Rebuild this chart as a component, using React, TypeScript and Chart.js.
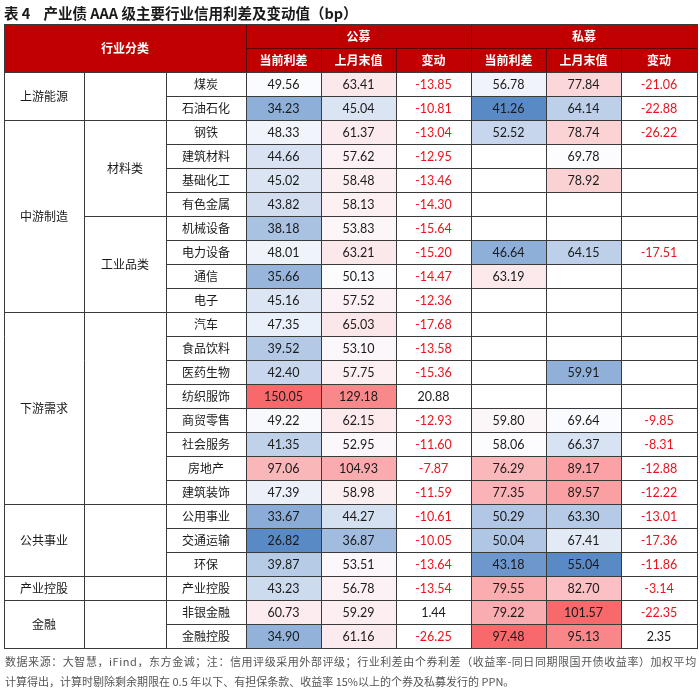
import React, { useEffect, useRef } from "react";
import { Chart, registerables } from "chart.js";

Chart.register(...registerables);

// ---------- text ----------
const TITLE = "表 4    产业债 AAA 级主要行业信用利差及变动值（bp）";
const NOTE_LINES = [
  "数据来源：大智慧，iFind，东方金诚；注：信用评级采用外部评级；行业利差由个券利差（收益率-同日同期限国开债收益率）加权平均",
  "计算得出，计算时剔除剩余期限在 0.5 年以下、有担保条款、收益率 15%以上的个券及私募发行的 PPN。",
];
const HEADER_CATEGORY = "行业分类";
const HEADER_GROUPS = ["公募", "私募"];
const HEADER_METRICS = ["当前利差", "上月末值", "变动"];

// ---------- categories ----------
const industries = [
  "煤炭", "石油石化", "钢铁", "建筑材料", "基础化工", "有色金属", "机械设备", "电力设备",
  "通信", "电子", "汽车", "食品饮料", "医药生物", "纺织服饰", "商贸零售", "社会服务",
  "房地产", "建筑装饰", "公用事业", "交通运输", "环保", "产业控股", "非银金融", "金融控股",
];
const sectors = ["上游能源", "中游制造", "下游需求", "公共事业", "产业控股", "金融"];
const sectorSizes = [2, 8, 8, 3, 1, 2];
const subSectors = ["", "材料类", "工业品类", "", "", "", ""];
const subSectorSizes = [2, 4, 4, 8, 3, 1, 2];

// ---------- values (bp) ----------
const publicCurrent = [49.56, 34.23, 48.33, 44.66, 45.02, 43.82, 38.18, 48.01, 35.66, 45.16, 47.35, 39.52, 42.40, 150.05, 49.22, 41.35, 97.06, 47.39, 33.67, 26.82, 39.87, 43.23, 60.73, 34.90];
const publicLastMonth = [63.41, 45.04, 61.37, 57.62, 58.48, 58.13, 53.83, 63.21, 50.13, 57.52, 65.03, 53.10, 57.75, 129.18, 62.15, 52.95, 104.93, 58.98, 44.27, 36.87, 53.51, 56.78, 59.29, 61.16];
const publicChange = [-13.85, -10.81, -13.04, -12.95, -13.46, -14.30, -15.64, -15.20, -14.47, -12.36, -17.68, -13.58, -15.36, 20.88, -12.93, -11.60, -7.87, -11.59, -10.61, -10.05, -13.64, -13.54, 1.44, -26.25];
const privateCurrent: (number | null)[] = [56.78, 41.26, 52.52, null, null, null, null, 46.64, 63.19, null, null, null, null, null, 59.80, 58.06, 76.29, 77.35, 50.29, 50.04, 43.18, 79.55, 79.22, 97.48];
const privateLastMonth: (number | null)[] = [77.84, 64.14, 78.74, 69.78, 78.92, null, null, 64.15, null, null, null, null, 59.91, null, 69.64, 66.37, 89.17, 89.57, 63.30, 67.41, 55.04, 82.70, 101.57, 95.13];
const privateChange: (number | null)[] = [-21.06, -22.88, -26.22, null, null, null, null, -17.51, null, null, null, null, null, null, -9.85, -8.31, -12.88, -12.22, -13.01, -17.36, -11.86, -3.14, -22.35, 2.35];

// ---------- layout / style ----------
const EDGES = [0, 80, 162, 242, 317, 392, 467, 542, 617, 693];
const HEADER_ROWS = 2;
const RED_HEADER = "#C00000";
const BODY_LINE = "#3a3a3a";
const HEADER_LINE = "#5a0000";
const NEG_RED = "#E8141E";
const TEXT = "#1a1a1a";
const NOTE_COLOR = "#555555";
const CJK = '"Noto Sans CJK SC", "Noto Sans", sans-serif';
const NUM = 'Lato, "Noto Sans CJK SC", sans-serif';
const LOW = [90, 138, 198];
const MID = [252, 252, 255];
const HIGH = [248, 105, 107];

type Vals = (number | null)[];

function median(list: number[]) {
  const s = [...list].sort((a, b) => a - b);
  const n = s.length;
  return n % 2 ? s[(n - 1) / 2] : (s[n / 2 - 1] + s[n / 2]) / 2;
}
function mix(a: number[], b: number[], t: number) {
  const c = a.map((v, i) => Math.round(v + (b[i] - v) * t));
  return `rgb(${c[0]},${c[1]},${c[2]})`;
}
function makeScale(pool: Vals) {
  const nums = pool.filter((v): v is number => v != null);
  const min = Math.min(...nums);
  const max = Math.max(...nums);
  const mid = median(nums);
  return (v: number | null) => {
    if (v == null) return "#ffffff";
    if (v <= mid) return mix(LOW, MID, (v - min) / (mid - min || 1));
    return mix(MID, HIGH, (v - mid) / (max - mid || 1));
  };
}

const publicScale = makeScale([...publicCurrent, ...publicLastMonth]);
const privCurScale = makeScale(privateCurrent);
const privLastScale = makeScale(privateLastMonth);
const whiteScale = (_v: number | null) => "#ffffff";

const valueColumns: { values: Vals; scale: (v: number | null) => string; change: boolean }[] = [
  { values: publicCurrent, scale: publicScale, change: false },
  { values: publicLastMonth, scale: publicScale, change: false },
  { values: publicChange, scale: whiteScale, change: true },
  { values: privateCurrent, scale: privCurScale, change: false },
  { values: privateLastMonth, scale: privLastScale, change: false },
  { values: privateChange, scale: whiteScale, change: true },
];

const rowLabels = [...Array(HEADER_ROWS).fill(""), ...industries];

function crisp(v: number) {
  return Math.round(v) + 0.5;
}

const tablePlugin = {
  id: "tableGrid",
  beforeDraw(chart: any) {
    const { ctx, width, height } = chart;
    ctx.save();
    ctx.fillStyle = "#ffffff";
    ctx.fillRect(0, 0, width, height);
    ctx.restore();
  },
  beforeDatasetsDraw(chart: any) {
    const { ctx } = chart;
    const x = chart.scales.x;
    const y = chart.scales.y;
    const rowH = y.getPixelForValue(1) - y.getPixelForValue(0);
    const top = (r: number) => y.getPixelForValue(r) - rowH / 2;
    const cx = (k: number) => x.getPixelForValue(EDGES[k]);
    ctx.save();
    ctx.fillStyle = RED_HEADER;
    ctx.fillRect(cx(0), top(0), cx(9) - cx(0), top(HEADER_ROWS) - top(0));
    ctx.restore();
  },
  afterDatasetsDraw(chart: any) {
    const { ctx } = chart;
    const x = chart.scales.x;
    const y = chart.scales.y;
    const rowH = y.getPixelForValue(1) - y.getPixelForValue(0);
    const top = (r: number) => y.getPixelForValue(r) - rowH / 2;
    const cx = (k: number) => x.getPixelForValue(EDGES[k]);
    const nRows = rowLabels.length;

    const hLine = (r: number, k0: number, k1: number, color: string) => {
      ctx.strokeStyle = color;
      ctx.beginPath();
      const yy = crisp(top(r));
      ctx.moveTo(Math.round(cx(k0)), yy);
      ctx.lineTo(Math.round(cx(k1)) + 1, yy);
      ctx.stroke();
    };
    const vLine = (k: number, r0: number, r1: number, color: string) => {
      ctx.strokeStyle = color;
      ctx.beginPath();
      const xx = crisp(cx(k));
      ctx.moveTo(xx, Math.round(top(r0)));
      ctx.lineTo(xx, Math.round(top(r1)) + 1);
      ctx.stroke();
    };

    ctx.save();
    ctx.lineWidth = 1;

    // header lines
    hLine(1, 3, 9, HEADER_LINE);
    vLine(3, 0, 2, HEADER_LINE);
    vLine(6, 0, 2, HEADER_LINE);
    [4, 5, 7, 8].forEach((k) => vLine(k, 1, 2, HEADER_LINE));

    // body horizontal lines
    for (let r = HEADER_ROWS + 1; r < nRows; r++) hLine(r, 2, 9, BODY_LINE);
    let acc = HEADER_ROWS;
    sectorSizes.forEach((s) => {
      acc += s;
      if (acc < nRows) hLine(acc, 0, 1, BODY_LINE);
    });
    acc = HEADER_ROWS;
    subSectorSizes.forEach((s) => {
      acc += s;
      if (acc < nRows) hLine(acc, 1, 2, BODY_LINE);
    });
    hLine(HEADER_ROWS, 0, 9, BODY_LINE);
    for (let k = 1; k <= 8; k++) vLine(k, HEADER_ROWS, nRows, BODY_LINE);
    hLine(0, 0, 9, BODY_LINE);
    hLine(nRows, 0, 9, BODY_LINE);
    vLine(0, 0, nRows, BODY_LINE);
    vLine(9, 0, nRows, BODY_LINE);

    ctx.textAlign = "center";
    ctx.textBaseline = "middle";

    // header text
    ctx.fillStyle = "#ffffff";
    ctx.font = `bold 12px ${CJK}`;
    ctx.fillText(HEADER_CATEGORY, (cx(0) + cx(3)) / 2, top(1) + 0.5);
    HEADER_GROUPS.forEach((g, i) => {
      ctx.fillText(g, (cx(3 + i * 3) + cx(6 + i * 3)) / 2, (top(0) + top(1)) / 2 + 0.5);
      HEADER_METRICS.forEach((m, j) => {
        const k = 3 + i * 3 + j;
        ctx.fillText(m, (cx(k) + cx(k + 1)) / 2, (top(1) + top(2)) / 2 + 0.5);
      });
    });

    // sector / sub-sector text
    ctx.fillStyle = TEXT;
    ctx.font = `12px ${CJK}`;
    acc = HEADER_ROWS;
    sectors.forEach((s, i) => {
      const r0 = acc;
      acc += sectorSizes[i];
      ctx.fillText(s, (cx(0) + cx(1)) / 2, (top(r0) + top(acc)) / 2 + 0.5);
    });
    acc = HEADER_ROWS;
    subSectors.forEach((s, i) => {
      const r0 = acc;
      acc += subSectorSizes[i];
      if (s) ctx.fillText(s, (cx(1) + cx(2)) / 2, (top(r0) + top(acc)) / 2 + 0.5);
    });
    industries.forEach((name, i) => {
      ctx.fillText(name, (cx(2) + cx(3)) / 2, y.getPixelForValue(i + HEADER_ROWS) + 0.5);
    });

    // values
    ctx.font = `12.5px ${NUM}`;
    valueColumns.forEach((col, j) => {
      const meta = chart.getDatasetMeta(j + 1);
      col.values.forEach((v, i) => {
        if (v == null) return;
        const el = meta.data[i + HEADER_ROWS];
        if (!el) return;
        const props = el.getProps(["x", "y", "base"], true);
        ctx.fillStyle = col.change && v < 0 ? NEG_RED : TEXT;
        ctx.fillText(v.toFixed(2), (props.x + props.base) / 2, props.y + 0.5);
      });
    });

    // title
    ctx.textAlign = "left";
    ctx.fillStyle = TEXT;
    ctx.font = `bold 14.5px ${CJK}`;
    ctx.fillText(TITLE, 4, top(0) - 11);

    // notes: first line justified to the table width, second line natural
    ctx.fillStyle = NOTE_COLOR;
    ctx.font = `11px ${CJK}`;
    const bottom = top(nRows);
    const fullW = cx(9) - cx(0) - 2;
    const chars = Array.from(NOTE_LINES[0]).length;
    const natural = ctx.measureText(NOTE_LINES[0]).width;
    const spacing = Math.max(0, (fullW - natural) / (chars - 1));
    (ctx as any).letterSpacing = `${spacing.toFixed(2)}px`;
    ctx.fillText(NOTE_LINES[0], 5, bottom + 14);
    (ctx as any).letterSpacing = "0px";
    ctx.fillText(NOTE_LINES[1], 5, bottom + 34);
    ctx.restore();
  },
};

export default function App() {
  const ref = useRef<HTMLCanvasElement>(null);
  useEffect(() => {
    const canvas = ref.current;
    if (!canvas) return;
    const labelColumn = {
      label: "行业",
      data: rowLabels.map((_, r) => (r < HEADER_ROWS ? null : [EDGES[2], EDGES[3]])),
      backgroundColor: "#ffffff",
    };
    const datasets = [
      labelColumn,
      ...valueColumns.map((col, j) => ({
        label: `c${j}`,
        data: rowLabels.map((_, r) => (r < HEADER_ROWS ? null : [EDGES[3 + j], EDGES[4 + j]])),
        backgroundColor: rowLabels.map((_, r) => (r < HEADER_ROWS ? "rgba(0,0,0,0)" : col.scale(col.values[r - HEADER_ROWS]))),
      })),
    ].map((d) => ({
      ...d,
      borderWidth: 0,
      grouped: false,
      barPercentage: 1,
      categoryPercentage: 1,
      inflateAmount: 0,
    }));

    const chart = new Chart(canvas, {
      type: "bar",
      data: { labels: rowLabels, datasets: datasets as any },
      options: {
        indexAxis: "y",
        responsive: false,
        maintainAspectRatio: false,
        animation: false,
        devicePixelRatio: 1,
        events: [],
        layout: { padding: { left: 4, right: 3, top: 24, bottom: 48 } },
        scales: {
          x: { type: "linear", min: 0, max: EDGES[EDGES.length - 1], display: false },
          y: { type: "category", display: false, offset: true },
        },
        plugins: {
          legend: { display: false },
          tooltip: { enabled: false },
          title: { display: false },
        },
      },
      plugins: [tablePlugin],
    });
    return () => chart.destroy();
  }, []);

  return (
    <div style={{ position: "absolute", left: 0, top: 0, width: 700, height: 696, background: "#fff" }}>
      <canvas ref={ref} width={700} height={696} style={{ display: "block", width: 700, height: 696 }} />
    </div>
  );
}
